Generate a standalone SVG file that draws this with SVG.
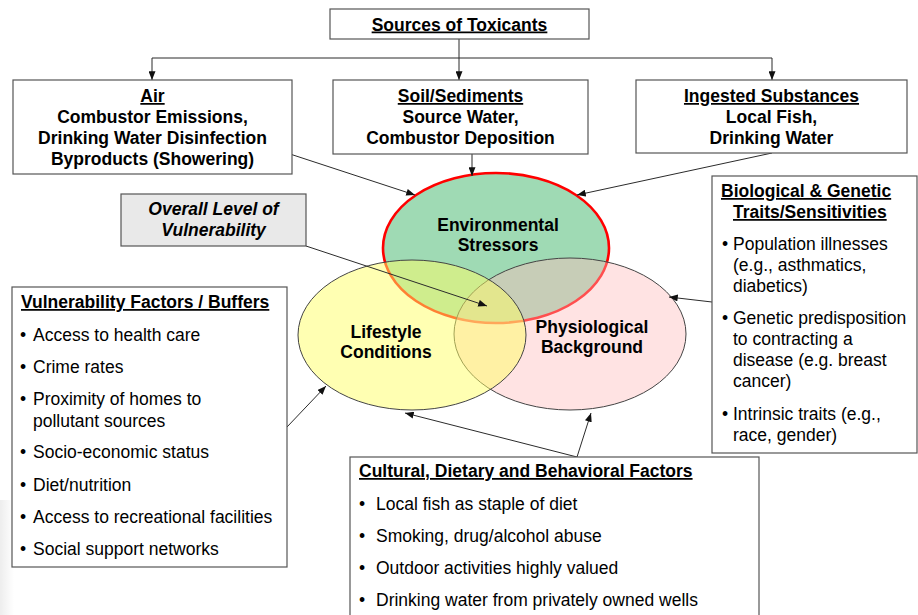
<svg xmlns="http://www.w3.org/2000/svg" width="918" height="615" viewBox="0 0 918 615">
  <defs>
    <style>
      .box { fill: #ffffff; stroke: #555555; stroke-width: 1.2; }
      .note { fill: #e9e9e9; stroke: #555555; stroke-width: 1.2; }
      .t { font-family: "Liberation Sans", Arial, sans-serif; font-size: 17.5px; fill: #000000; }
      .b { font-weight: bold; }
      .c { text-anchor: middle; }
      .u { text-decoration: underline; }
      .wire { fill: none; stroke: #2b2b2b; stroke-width: 1; }
      .arw { fill: none; stroke: #2b2b2b; stroke-width: 1; marker-end: url(#head); }
    </style>
    <marker id="head" viewBox="0 0 10 8" refX="10" refY="4" markerWidth="9" markerHeight="7" markerUnits="userSpaceOnUse" orient="auto">
      <path d="M0,0 L10,4 L0,8 z" fill="#111111"/>
    </marker>
    <linearGradient id="edgeShade" x1="0" y1="0" x2="1" y2="0">
      <stop offset="0" stop-color="#000000" stop-opacity="0.07"/>
      <stop offset="1" stop-color="#000000" stop-opacity="0"/>
    </linearGradient>
  </defs>

  <rect x="0" y="0" width="918" height="615" fill="#ffffff"/>
  <rect x="0" y="500" width="14" height="115" fill="url(#edgeShade)"/>

  <!-- overlapping circles: green first, then pink, yellow on top -->
  <g id="environmental-stressors">
    <ellipse cx="496" cy="248" rx="113" ry="75" fill="#9fdab4" stroke="#ff0000" stroke-width="2.6"/>
  </g>
  <g id="physiological-background">
    <ellipse cx="570" cy="334" rx="116" ry="76" fill="#ffbcbc" fill-opacity="0.42" stroke="#444444" stroke-width="1"/>
  </g>
  <g id="lifestyle-conditions">
    <ellipse cx="412" cy="335" rx="114" ry="75" fill="#ffff66" fill-opacity="0.5" stroke="#444444" stroke-width="1"/>
  </g>
  <g id="circle-labels">
    <text class="t b c" x="498" y="231">Environmental</text>
    <text class="t b c" x="498" y="251">Stressors</text>
    <text class="t b c" x="386" y="338">Lifestyle</text>
    <text class="t b c" x="386" y="358">Conditions</text>
    <text class="t b c" x="592" y="333">Physiological</text>
    <text class="t b c" x="592" y="353">Background</text>
  </g>

  <!-- connectors -->
  <g id="connectors">
    <path class="wire" d="M459,39 V58 M152,58 H772"/>
    <path class="arw" d="M152,58 V80"/>
    <path class="arw" d="M459,58 V80"/>
    <path class="arw" d="M772,58 V80"/>
    <path class="arw" d="M290,154 L415,195"/>
    <path class="arw" d="M472,154 V176"/>
    <path class="arw" d="M772,153 L577,195"/>
    <path class="arw" d="M306,246 L487,306"/>
    <path class="arw" d="M287,427 L326,386"/>
    <path class="arw" d="M712,302 L669,297"/>
    <path class="arw" d="M577,457 L405,413"/>
    <path class="arw" d="M577,457 L591,413"/>
  </g>

  <g id="sources-of-toxicants">
    <rect class="box" x="330" y="9" width="259" height="30"/>
    <text class="t b c u" x="459.5" y="30.5">Sources of Toxicants</text>
  </g>

  <g id="air">
    <rect class="box" x="13" y="80" width="279" height="94"/>
    <text class="t b c u" x="152.5" y="102">Air</text>
    <text class="t b c" x="152.5" y="123">Combustor Emissions,</text>
    <text class="t b c" x="152.5" y="144">Drinking Water Disinfection</text>
    <text class="t b c" x="152.5" y="164.5">Byproducts (Showering)</text>
  </g>

  <g id="soil-sediments">
    <rect class="box" x="333" y="80" width="255" height="74"/>
    <text class="t b c u" x="460.5" y="102">Soil/Sediments</text>
    <text class="t b c" x="460.5" y="123">Source Water,</text>
    <text class="t b c" x="460.5" y="144">Combustor Deposition</text>
  </g>

  <g id="ingested-substances">
    <rect class="box" x="636" y="80" width="271" height="73"/>
    <text class="t b c u" x="771.5" y="102">Ingested Substances</text>
    <text class="t b c" x="771.5" y="123">Local Fish,</text>
    <text class="t b c" x="771.5" y="144">Drinking Water</text>
  </g>

  <g id="overall-vulnerability">
    <rect class="note" x="121" y="194" width="185" height="52"/>
    <text class="t b c" font-style="italic" x="213.5" y="215">Overall Level of</text>
    <text class="t b c" font-style="italic" x="213.5" y="236">Vulnerability</text>
  </g>

  <g id="vulnerability-factors">
    <rect class="box" x="12" y="287" width="275" height="280"/>
    <text class="t b u" x="21" y="308">Vulnerability Factors / Buffers</text>
    <text class="t" x="20" y="341">•</text><text class="t" x="33" y="341">Access to health care</text>
    <text class="t" x="20" y="373">•</text><text class="t" x="33" y="373">Crime rates</text>
    <text class="t" x="20" y="405">•</text><text class="t" x="33" y="405">Proximity of homes to</text>
    <text class="t" x="33" y="427">pollutant sources</text>
    <text class="t" x="20" y="458">•</text><text class="t" x="33" y="458">Socio-economic status</text>
    <text class="t" x="20" y="491">•</text><text class="t" x="33" y="491">Diet/nutrition</text>
    <text class="t" x="20" y="523">•</text><text class="t" x="33" y="523">Access to recreational facilities</text>
    <text class="t" x="20" y="555">•</text><text class="t" x="33" y="555">Social support networks</text>
  </g>

  <g id="biological-genetic-traits">
    <rect class="box" x="712" y="176" width="205" height="277"/>
    <text class="t b u" x="721" y="197">Biological &amp; Genetic</text>
    <text class="t b u" x="733" y="218">Traits/Sensitivities</text>
    <text class="t" x="722" y="250">•</text><text class="t" x="733" y="250">Population illnesses</text>
    <text class="t" x="733" y="271">(e.g., asthmatics,</text>
    <text class="t" x="733" y="292">diabetics)</text>
    <text class="t" x="722" y="324">•</text><text class="t" x="733" y="324">Genetic predisposition</text>
    <text class="t" x="733" y="345">to contracting a</text>
    <text class="t" x="733" y="366">disease (e.g. breast</text>
    <text class="t" x="733" y="387">cancer)</text>
    <text class="t" x="722" y="420">•</text><text class="t" x="733" y="420">Intrinsic traits (e.g.,</text>
    <text class="t" x="733" y="441">race, gender)</text>
  </g>

  <g id="cultural-dietary-behavioral">
    <rect class="box" x="350" y="457" width="409" height="170"/>
    <text class="t b u" x="359" y="477">Cultural, Dietary and Behavioral Factors</text>
    <text class="t" x="359" y="510">•</text><text class="t" x="376" y="510">Local fish as staple of diet</text>
    <text class="t" x="359" y="542">•</text><text class="t" x="376" y="542">Smoking, drug/alcohol abuse</text>
    <text class="t" x="359" y="574">•</text><text class="t" x="376" y="574">Outdoor activities highly valued</text>
    <text class="t" x="359" y="606">•</text><text class="t" x="376" y="606">Drinking water from privately owned wells</text>
  </g>
</svg>
